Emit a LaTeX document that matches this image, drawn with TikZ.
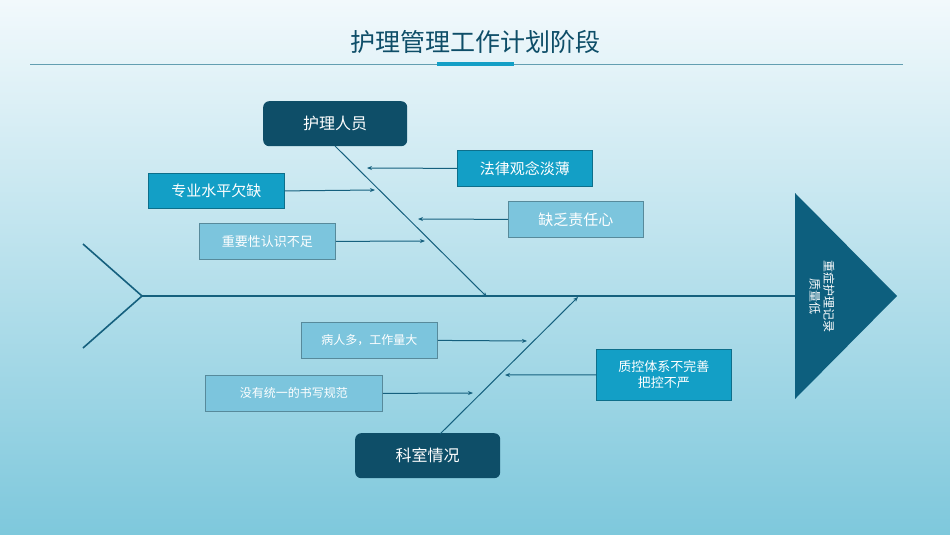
\documentclass[tikz,border=0pt]{standalone}
\usepackage{fontspec}
\newfontfamily\cjk{Noto Sans CJK SC}
\usetikzlibrary{arrows.meta}
\definecolor{dk}{HTML}{0E4E68}
\definecolor{tri}{HTML}{0D5F7E}
\definecolor{md}{HTML}{139FC6}
\definecolor{lt}{HTML}{7CC5DD}
\definecolor{ln}{HTML}{15607E}
\definecolor{bgt}{HTML}{F2F9FC}
\definecolor{bgb}{HTML}{7EC8DC}
\begin{document}
\begin{tikzpicture}[x=1pt,y=-1pt,font=\cjk,
 bx/.style={draw=#1!70!black,line width=0.8pt,fill=#1,text=white,inner sep=0pt,anchor=north west,font=\cjk\fontsize{15}{17}\selectfont},
 hd/.style={fill=dk,rounded corners=6pt,text=white,inner sep=0pt,anchor=north west,font=\cjk\fontsize{16}{18}\selectfont},
 ar/.style={draw=ln,line width=1pt,-{Stealth[length=5pt,width=4pt]}}]
\shade[top color=bgt,bottom color=bgb] (0,0) rectangle (950,535);
\useasboundingbox (0,0) rectangle (950,535);
\node[text=dk,font=\cjk\fontsize{25}{28}\selectfont] (title) at (475,42) {护理管理工作计划阶段};
\draw[lt!80!black,line width=0.6pt] (30,64) -- (903,64);
\draw[md,line width=3.5pt] (437,64) -- (514,64);
% spine
\coordinate (tail) at (142,296);
\coordinate (t1) at (83,244);
\coordinate (t2) at (83,348);
\draw[ln,line width=1.6pt] (t1) -- (tail) -- (t2);
\coordinate (head) at (795,296);
\draw[ln,line width=1.6pt] (tail) -- (head);
\fill[tri] (795,193) -- (897,296) -- (795,399) -- cycle;
\node[rotate=-90,text=white,align=center,font=\cjk\fontsize{12}{14}\selectfont] (htxt) at (822,296) {重症护理记录\\质量低};
% top
\node[hd,minimum width=144pt,minimum height=45pt] (hl) at (263,101) {护理人员};
\coordinate (b1a) at (335,146); \coordinate (b1b) at (487,297);
\draw[ar] (b1a) -- (b1b);
\node[bx=md,minimum width=135pt,minimum height=36pt] (a1) at (457,150) {法律观念淡薄};
\node[bx=md,minimum width=136pt,minimum height=35pt] (a2) at (148,173) {专业水平欠缺};
\node[bx=lt,minimum width=135pt,minimum height=36pt] (a3) at (508,201) {缺乏责任心};
\node[bx=lt,minimum width=136pt,minimum height=36pt,font=\cjk\fontsize{13}{15}\selectfont] (a4) at (199,223) {重要性认识不足};
\coordinate (p1) at (367,168); \coordinate (p2) at (375,190);
\coordinate (p3) at (418,219); \coordinate (p4) at (425,241);
\draw[ar] (a1.west) -- (p1);
\draw[ar] (a2.east) -- (p2);
\draw[ar] (a3.west) -- (p3);
\draw[ar] (a4.east) -- (p4);
% bottom
\node[hd,minimum width=145pt,minimum height=45pt] (hb) at (355,433) {科室情况};
\coordinate (b2a) at (440,434); \coordinate (b2b) at (578,297);
\draw[ar] (b2a) -- (b2b);
\node[bx=lt,minimum width=136pt,minimum height=36pt,font=\cjk\fontsize{12}{14}\selectfont] (c1) at (301,322) {病人多，工作量大};
\node[bx=lt,minimum width=177pt,minimum height=36pt,font=\cjk\fontsize{12}{14}\selectfont] (c2) at (205,375) {没有统一的书写规范};
\node[bx=md,minimum width=135pt,minimum height=51pt,align=center,font=\cjk\fontsize{13}{16}\selectfont] (c3) at (596,349) {质控体系不完善\\把控不严};
\coordinate (q1) at (527,341); \coordinate (q2) at (473,393); \coordinate (q3) at (505,375);
\draw[ar] (c1.east) -- (q1);
\draw[ar] (c2.east) -- (q2);
\draw[ar] (c3.west) -- (q3);
\end{tikzpicture}
\end{document}
